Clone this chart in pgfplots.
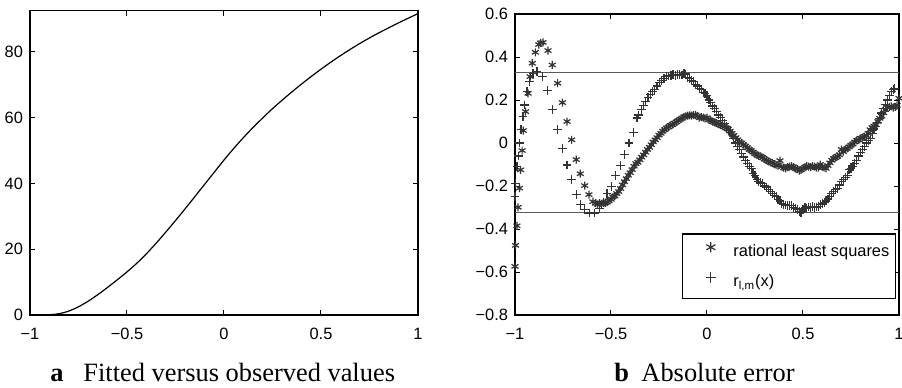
\documentclass[border=0pt]{standalone}
\usepackage{fontspec}
\setmainfont{Liberation Sans}
\newfontfamily\capfont{Liberation Serif}
\usepackage{pgfplots}
\pgfplotsset{compat=1.18}
\begin{document}
\begin{tikzpicture}
\useasboundingbox (0,0) rectangle (451pt,193.5pt);
\pgfplotsset{every axis/.append style={scale only axis,
  font=\fontsize{8.2}{9.8}\selectfont,
  axis line style={line width=0.6pt},
  major tick length=2.5pt, tick style={line width=0.5pt, black},
  xmin=-1, xmax=1, xtick={-1,-0.5,0,0.5,1}, xticklabels={−1,−0.5,0,0.5,1},
  xticklabel style={yshift=-3pt}, clip=false}}
\begin{axis}[at={(15pt,36pt)}, anchor=south west, width=194pt, height=152.2pt,
  ymin=0, ymax=92.5, ytick={0,20,40,60,80}, yticklabels={0,20,40,60,80}]
\addplot[black, line width=0.6pt, smooth] coordinates {
(-1.00,0.0) (-0.95,0.0) (-0.90,0.1) (-0.85,0.4) (-0.80,1.2) (-0.75,2.5) (-0.70,4.2)
(-0.65,6.2) (-0.60,8.4) (-0.55,10.7) (-0.50,13.1) (-0.45,15.7) (-0.40,18.6) (-0.35,21.8)
(-0.30,25.2) (-0.25,28.7) (-0.20,32.3) (-0.15,36.0) (-0.10,39.7) (-0.05,43.4) (0.00,47.1)
(0.05,50.6) (0.10,53.9) (0.15,57.0) (0.20,59.9) (0.25,62.7) (0.30,65.3) (0.35,67.8)
(0.40,70.2) (0.45,72.5) (0.50,74.7) (0.55,76.8) (0.60,78.8) (0.65,80.7) (0.70,82.5)
(0.75,84.2) (0.80,85.8) (0.85,87.3) (0.90,88.8) (0.95,90.2) (1.00,91.6)};
\end{axis}
\begin{axis}[at={(257.5pt,36pt)}, anchor=south west, width=192pt, height=150.5pt,
  ymin=-0.8, ymax=0.6, ytick={-0.8,-0.6,-0.4,-0.2,0,0.2,0.4,0.6},
  yticklabels={−0.8,−0.6,−0.4,−0.2,0,0.2,0.4,0.6},
  legend style={at={(0.992,0.053)}, anchor=south east, draw=black, line width=0.6pt,
    inner xsep=3pt, inner ysep=4pt, row sep=6pt,
    nodes={inner sep=0pt, text height=6pt, text depth=2pt},
    /tikz/every even column/.style={column sep=1.5pt}},
  legend cell align=left,
  legend image code/.code={\path (0pt,0pt) (22pt,0pt); \draw[#1, mark size=2.6pt] plot coordinates {(11pt,2.5pt)};}]
\addplot[forget plot, black!65, line width=0.5pt] coordinates {(-1,0.33) (1,0.33)};
\addplot[forget plot, black!65, line width=0.5pt] coordinates {(-1,-0.325) (1,-0.325)};
\addplot[only marks, mark=asterisk, mark size=2pt, black!80, line width=0.6pt] coordinates {
(-1.000,-0.574) (-0.997,-0.476) (-0.990,-0.385) (-0.984,-0.299) (-0.977,-0.210) (-0.971,-0.125)
(-0.963,-0.035) (-0.957,0.058) (-0.945,0.146) (-0.932,0.231) (-0.921,0.309) (-0.910,0.371)
(-0.894,0.422) (-0.876,0.458) (-0.866,0.466) (-0.854,0.468) (-0.828,0.430) (-0.806,0.363)
(-0.778,0.278) (-0.753,0.188) (-0.729,0.100) (-0.705,0.015) (-0.681,-0.077) (-0.660,-0.143)
(-0.637,-0.198) (-0.615,-0.240) (-0.594,-0.273) (-0.580,-0.280) (-0.570,-0.285) (-0.560,-0.280)
(-0.550,-0.283) (-0.540,-0.280) (-0.530,-0.278) (-0.520,-0.275) (-0.510,-0.268) (-0.500,-0.262)
(-0.490,-0.250) (-0.480,-0.247) (-0.470,-0.235) (-0.460,-0.226) (-0.450,-0.212) (-0.440,-0.195)
(-0.430,-0.180) (-0.420,-0.166) (-0.410,-0.150) (-0.400,-0.138) (-0.390,-0.124) (-0.380,-0.108)
(-0.370,-0.096) (-0.360,-0.090) (-0.350,-0.078) (-0.340,-0.066) (-0.330,-0.055) (-0.320,-0.043)
(-0.310,-0.030) (-0.300,-0.020) (-0.290,-0.008) (-0.280,0.005) (-0.270,0.015) (-0.260,0.025)
(-0.250,0.037) (-0.240,0.045) (-0.230,0.055) (-0.220,0.062) (-0.210,0.070) (-0.200,0.075)
(-0.190,0.082) (-0.180,0.086) (-0.170,0.092) (-0.160,0.098) (-0.150,0.104) (-0.140,0.110)
(-0.130,0.115) (-0.120,0.122) (-0.110,0.125) (-0.100,0.127) (-0.090,0.128) (-0.080,0.127)
(-0.070,0.130) (-0.060,0.131) (-0.050,0.125) (-0.040,0.118) (-0.030,0.120) (-0.020,0.118)
(-0.010,0.115) (0.000,0.118) (0.010,0.108) (0.020,0.105) (0.030,0.100) (0.040,0.096)
(0.050,0.092) (0.060,0.088) (0.070,0.083) (0.080,0.080) (0.090,0.076) (0.100,0.070)
(0.110,0.065) (0.120,0.055) (0.130,0.045) (0.140,0.036) (0.150,0.025) (0.160,0.015)
(0.170,0.005) (0.180,0.000) (0.190,-0.008) (0.200,-0.014) (0.210,-0.022) (0.220,-0.030)
(0.230,-0.035) (0.240,-0.042) (0.250,-0.050) (0.260,-0.055) (0.270,-0.060) (0.280,-0.062)
(0.290,-0.068) (0.300,-0.075) (0.310,-0.080) (0.320,-0.085) (0.330,-0.090) (0.340,-0.092)
(0.350,-0.098) (0.360,-0.103) (0.370,-0.105) (0.380,-0.082) (0.390,-0.110) (0.400,-0.115)
(0.410,-0.118) (0.420,-0.112) (0.430,-0.110) (0.440,-0.108) (0.450,-0.112) (0.460,-0.118)
(0.470,-0.122) (0.480,-0.128) (0.490,-0.125) (0.500,-0.118) (0.510,-0.112) (0.520,-0.108)
(0.530,-0.110) (0.540,-0.112) (0.550,-0.108) (0.560,-0.110) (0.570,-0.114) (0.580,-0.115)
(0.590,-0.100) (0.600,-0.110) (0.610,-0.115) (0.620,-0.118) (0.630,-0.105) (0.640,-0.092)
(0.650,-0.080) (0.660,-0.072) (0.670,-0.068) (0.680,-0.062) (0.690,-0.055) (0.700,-0.030)
(0.710,-0.040) (0.720,-0.030) (0.730,-0.025) (0.740,-0.018) (0.750,-0.010) (0.760,-0.005)
(0.770,0.005) (0.780,0.012) (0.790,0.015) (0.800,0.022) (0.810,0.025) (0.820,0.030)
(0.830,0.035) (0.840,0.045) (0.850,0.062) (0.860,0.072) (0.870,0.078) (0.880,0.085)
(0.890,0.100) (0.900,0.115) (0.910,0.125) (0.920,0.140) (0.930,0.155) (0.940,0.165)
(0.950,0.168) (0.960,0.170) (0.970,0.165) (0.980,0.168) (0.990,0.175) (1.000,0.208)};
\addlegendentry{rational least squares}
\addplot[only marks, mark=+, mark size=2.2pt, black!80, line width=0.6pt] coordinates {
(-1.000,-0.249) (-0.997,-0.187) (-0.990,-0.109) (-0.983,-0.060) (-0.977,0.000) (-0.969,0.061)
(-0.958,0.123) (-0.951,0.177) (-0.938,0.239) (-0.924,0.286) (-0.906,0.324) (-0.885,0.332)
(-0.858,0.309) (-0.830,0.244) (-0.806,0.157) (-0.780,0.064) (-0.753,-0.027) (-0.729,-0.102)
(-0.707,-0.171) (-0.681,-0.241) (-0.660,-0.287) (-0.637,-0.310) (-0.611,-0.326) (-0.585,-0.326)
(-0.559,-0.303) (-0.540,-0.275) (-0.521,-0.236) (-0.498,-0.202) (-0.476,-0.152) (-0.451,-0.105)
(-0.429,-0.055) (-0.406,0.000) (-0.382,0.050) (-0.365,0.116) (-0.355,0.130) (-0.342,0.157)
(-0.330,0.175) (-0.319,0.193) (-0.307,0.210) (-0.295,0.224) (-0.284,0.238) (-0.273,0.250)
(-0.260,0.265) (-0.247,0.281) (-0.235,0.292) (-0.224,0.300) (-0.212,0.309) (-0.200,0.312)
(-0.188,0.315) (-0.177,0.317) (-0.165,0.314) (-0.154,0.318) (-0.142,0.317) (-0.130,0.316)
(-0.120,0.322) (-0.111,0.321) (-0.100,0.305) (-0.090,0.300) (-0.080,0.290) (-0.070,0.285)
(-0.060,0.272) (-0.050,0.265) (-0.040,0.255) (-0.030,0.250) (-0.020,0.235) (-0.010,0.230)
(0.000,0.222) (0.010,0.200) (0.020,0.190) (0.030,0.172) (0.040,0.160) (0.050,0.146)
(0.060,0.130) (0.070,0.118) (0.080,0.105) (0.090,0.090) (0.100,0.075) (0.110,0.060)
(0.120,0.050) (0.130,0.038) (0.140,0.020) (0.150,0.000) (0.160,-0.015) (0.170,-0.030)
(0.180,-0.050) (0.190,-0.065) (0.200,-0.080) (0.210,-0.095) (0.220,-0.108) (0.230,-0.120)
(0.240,-0.140) (0.250,-0.152) (0.260,-0.170) (0.270,-0.180) (0.280,-0.185) (0.290,-0.190)
(0.300,-0.200) (0.310,-0.205) (0.320,-0.215) (0.330,-0.225) (0.340,-0.235) (0.350,-0.245)
(0.360,-0.250) (0.370,-0.262) (0.380,-0.270) (0.390,-0.280) (0.400,-0.285) (0.410,-0.288)
(0.420,-0.290) (0.430,-0.292) (0.440,-0.290) (0.450,-0.300) (0.460,-0.305) (0.470,-0.308)
(0.480,-0.318) (0.490,-0.322) (0.500,-0.310) (0.510,-0.300) (0.520,-0.305) (0.530,-0.298)
(0.540,-0.300) (0.550,-0.295) (0.560,-0.300) (0.570,-0.298) (0.580,-0.296) (0.590,-0.285)
(0.600,-0.280) (0.610,-0.276) (0.620,-0.270) (0.630,-0.260) (0.640,-0.250) (0.650,-0.235)
(0.660,-0.226) (0.670,-0.215) (0.680,-0.210) (0.690,-0.195) (0.700,-0.180) (0.710,-0.171)
(0.720,-0.160) (0.730,-0.150) (0.740,-0.125) (0.750,-0.118) (0.760,-0.109) (0.770,-0.095)
(0.780,-0.080) (0.790,-0.060) (0.800,-0.045) (0.810,-0.030) (0.820,-0.015) (0.830,0.000)
(0.840,0.010) (0.850,0.020) (0.860,0.045) (0.870,0.065) (0.880,0.077) (0.890,0.095)
(0.900,0.115) (0.910,0.140) (0.920,0.160) (0.930,0.180) (0.940,0.200) (0.950,0.220)
(0.960,0.240) (0.970,0.250) (0.975,0.255)};
\addlegendentry{r\textsubscript{l,m}(x)}
\end{axis}
\node[anchor=base west, inner sep=0pt, font=\capfont\fontsize{13.2}{15}\selectfont] at (25pt,2.65pt) {\textbf{a}\hspace{9.9pt}Fitted versus observed values};
\node[anchor=base west, inner sep=0pt, font=\capfont\fontsize{13.2}{15}\selectfont] at (307pt,2.65pt) {\textbf{b}\hspace{6.2pt}Absolute error};
\end{tikzpicture}
\end{document}
